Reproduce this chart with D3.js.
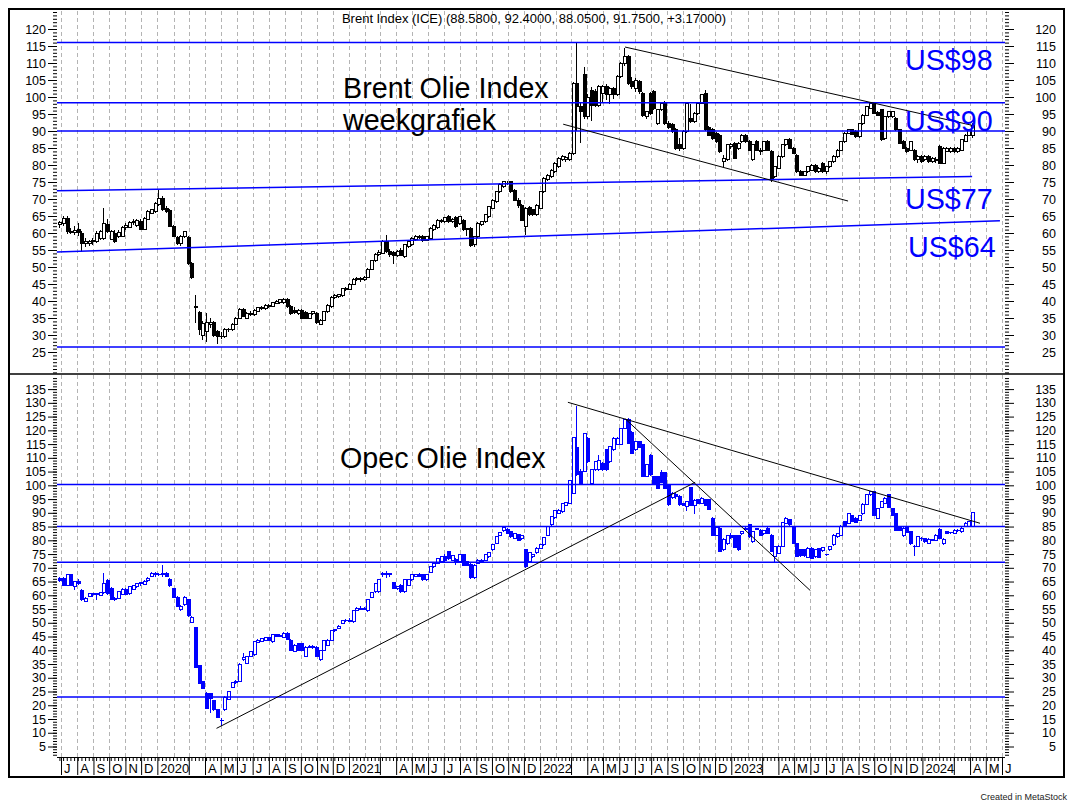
<!DOCTYPE html>
<html>
<head>
<meta charset="utf-8">
<script src="https://cdnjs.cloudflare.com/ajax/libs/d3/7.8.5/d3.min.js"></script>
<style>
  body { margin: 0; background: #fff; }
  svg { display: block; }
  svg text { font-family: "Liberation Sans", Arial, sans-serif; }
</style>
</head>
<body>
<svg id="fig" width="1073" height="810"></svg>
<script>
// weekly bars, the first one is the week ending 28 June 2019
const first_week = new Date(2019, 5, 28)

// Brent Index (ICE), weekly [open, high, low, close]
const brent_ohlc = [
  [62.5,63.5,61.5,63.0],[62.8,65.0,62.0,64.2],[64.2,65.0,59.8,60.4],[60.4,61.5,59.6,60.2],[60.2,62.0,59.5,60.8],[61.0,63.0,59.0,60.2],[60.0,60.5,54.5,57.0],[57.0,58.5,56.0,57.6],[56.8,58.0,56.2,57.4],[57.4,58.6,56.5,57.9],
  [57.4,60.5,57.0,59.9],[58.5,61.0,58.0,60.4],[58.5,67.5,58.0,62.8],[62.6,64.0,60.0,60.4],[58.1,61.0,57.8,60.4],[60.0,60.8,57.0,57.4],[58.9,60.8,58.5,60.2],[59.0,62.0,58.8,61.7],[61.7,63.0,61.0,62.3],[61.7,63.5,61.5,63.0],
  [63.0,64.0,62.5,63.3],[62.2,64.2,61.8,63.8],[63.3,64.0,60.8,61.0],[61.0,64.8,60.8,64.3],[64.0,66.8,63.8,66.3],[65.8,67.2,65.5,66.8],[66.3,69.0,66.0,68.7],[68.4,72.6,68.0,70.2],[70.2,71.0,66.5,67.0],[67.2,68.0,65.8,66.4],
  [66.6,67.0,61.8,62.0],[61.9,62.3,58.7,59.0],[58.6,59.0,56.5,57.0],[56.8,59.5,56.3,58.9],[58.9,60.6,58.5,60.4],[58.7,59.2,50.5,51.0],[50.9,51.5,46.5,47.0],[38.3,41.8,33.4,38.1],[36.6,37.0,30.0,31.5],[30.0,34.0,28.5,33.4],
  [31.0,36.5,28.0,33.8],[33.2,35.0,32.0,33.8],[33.8,34.2,29.5,30.0],[31.0,31.5,27.3,29.7],[29.7,30.8,28.8,29.5],[29.5,32.0,29.2,31.7],[31.7,32.2,31.0,31.5],[31.5,33.5,31.2,33.2],[33.2,35.2,33.0,34.9],[34.9,37.8,34.6,37.5],
  [37.5,38.0,35.2,35.4],[34.9,36.7,34.6,36.4],[36.4,37.0,35.5,36.0],[35.9,37.6,35.6,37.3],[37.0,38.3,36.8,38.0],[38.0,38.4,37.4,37.8],[37.8,39.1,37.5,38.8],[38.8,39.0,38.0,38.3],[38.5,39.8,38.2,39.5],[39.3,40.3,39.0,40.0],
  [39.5,40.6,39.2,40.3],[39.5,40.9,39.2,40.5],[40.5,40.8,38.0,38.3],[38.5,38.9,35.9,36.2],[37.2,38.3,36.2,36.5],[36.2,37.6,35.8,37.3],[37.3,37.6,34.6,34.9],[36.5,37.0,34.7,35.0],[35.0,36.5,34.8,36.2],[36.2,37.2,35.8,36.9],
  [36.4,36.8,33.2,33.6],[33.2,34.8,33.0,34.4],[34.4,37.2,34.2,36.9],[36.9,39.0,36.6,38.8],[38.3,41.4,38.0,41.1],[41.0,42.0,40.5,41.7],[41.3,42.2,40.8,41.8],[41.5,43.9,41.2,43.7],[43.5,44.2,43.0,43.8],[43.4,45.2,43.1,45.0],
  [45.0,46.7,44.8,46.4],[46.2,47.0,45.8,46.5],[46.5,47.0,45.5,46.2],[46.3,47.3,45.9,47.0],[47.0,49.6,46.7,49.3],[49.3,52.2,49.0,51.9],[51.9,54.1,51.6,53.8],[53.8,55.0,53.2,54.2],[54.0,57.8,53.8,57.5],[57.5,59.4,54.2,54.5],
  [54.5,55.2,53.0,53.8],[54.2,54.8,51.0,53.5],[53.5,55.0,53.0,54.5],[55.0,55.6,53.2,53.5],[53.0,56.8,52.6,56.5],[56.0,57.8,55.7,57.5],[56.5,58.7,56.2,58.4],[58.0,59.3,57.6,58.9],[58.9,59.5,58.3,58.7],[58.9,59.3,57.5,57.9],
  [57.9,59.2,57.6,58.9],[58.4,61.7,58.1,61.4],[61.0,62.6,60.7,62.3],[61.6,64.1,61.3,63.8],[63.6,64.2,63.0,63.5],[63.3,64.8,63.0,64.5],[64.8,65.2,63.0,63.3],[63.3,64.5,62.8,64.0],[64.5,65.0,61.6,61.9],[62.8,65.1,62.4,64.8],
  [63.8,64.2,60.6,60.9],[60.9,61.5,59.0,61.4],[61.4,61.8,56.0,56.3],[56.5,59.2,56.0,58.9],[58.9,63.1,58.6,62.8],[62.5,63.6,62.2,63.3],[63.3,65.6,63.0,65.3],[64.8,68.0,64.5,67.7],[67.3,70.0,67.0,69.7],[69.2,72.5,68.9,72.2],
  [72.2,74.6,71.9,74.3],[73.6,75.4,73.3,75.1],[74.5,75.3,74.0,74.6],[75.1,75.4,71.9,72.2],[72.6,72.9,69.4,69.7],[69.7,70.2,67.5,68.0],[68.0,68.5,63.5,63.8],[61.9,67.6,59.4,67.3],[67.5,67.8,65.0,65.3],[66.8,67.1,65.0,65.3],
  [65.3,68.5,65.0,68.2],[67.3,72.5,67.0,72.2],[72.2,76.4,71.9,76.1],[75.6,77.3,75.3,77.0],[76.6,78.8,76.3,78.5],[78.0,80.8,77.7,80.5],[79.5,82.3,79.2,82.0],[81.5,82.8,81.2,82.5],[81.5,82.6,81.0,82.3],[81.5,83.7,81.2,83.4],
  [83.4,104.3,83.0,104.0],[104.0,116.3,89.9,97.2],[97.2,98.5,86.4,95.7],[106.5,108.9,93.5,94.2],[94.2,100.8,93.6,100.0],[102.0,103.0,93.0,97.6],[101.5,102.5,97.0,97.6],[97.6,103.6,97.0,103.0],[101.0,103.6,98.5,103.0],[103.0,103.8,99.0,100.6],
  [100.6,103.0,98.0,102.5],[102.5,103.0,99.5,100.8],[100.8,106.5,100.3,106.0],[106.0,110.3,105.5,109.9],[109.9,114.3,109.0,111.9],[111.9,112.5,103.5,104.0],[104.5,106.0,102.5,103.0],[102.6,105.5,101.5,105.0],[104.5,105.0,101.0,101.5],[101.0,101.5,94.2,94.7],
  [94.2,96.0,93.5,95.7],[101.0,101.5,94.7,95.2],[101.5,102.0,96.2,96.7],[92.2,96.5,91.8,96.2],[96.2,98.5,95.8,98.1],[98.1,98.8,91.8,92.2],[92.2,93.0,90.5,91.0],[91.8,92.5,89.5,89.8],[90.3,90.8,84.5,84.9],[86.0,88.0,84.0,85.0],
  [85.0,90.2,84.5,89.8],[89.8,98.5,89.5,98.1],[93.7,98.0,92.3,92.7],[92.7,95.5,92.3,95.2],[95.2,98.4,94.8,98.1],[98.1,100.9,97.8,100.6],[101.1,102.0,90.0,90.3],[91.0,91.5,88.5,88.8],[90.3,90.8,87.5,87.8],[89.3,89.8,86.5,86.9],
  [88.8,89.2,83.6,83.9],[81.0,83.0,79.5,82.0],[81.5,86.2,81.2,85.9],[85.4,86.5,84.8,85.9],[86.4,86.8,81.7,82.0],[84.9,86.7,84.5,86.4],[86.9,89.2,86.5,88.8],[88.8,89.2,86.6,86.9],[86.9,87.3,84.1,84.4],[81.5,86.2,81.2,85.9],
  [86.9,87.3,84.1,84.4],[84.0,85.0,83.0,84.4],[84.4,87.2,84.1,86.9],[86.9,87.3,84.1,84.4],[83.9,84.3,75.1,75.6],[76.6,79.8,76.3,79.5],[79.0,82.8,78.7,82.5],[82.5,86.2,82.2,85.9],[85.9,87.7,85.6,87.4],[87.4,87.8,84.6,84.9],
  [84.9,85.3,83.2,83.5],[82.9,83.3,77.7,78.0],[78.2,78.6,76.7,77.0],[77.0,78.3,76.7,78.0],[78.0,79.8,77.7,79.5],[78.5,80.3,78.2,80.0],[80.0,80.4,77.7,78.0],[78.0,79.3,77.7,79.0],[80.5,80.9,77.7,78.0],[78.0,79.8,77.5,79.5],
  [79.5,81.3,79.2,81.0],[81.0,82.8,80.7,82.5],[82.5,84.7,82.2,84.4],[84.4,87.2,84.1,86.9],[86.9,89.6,86.6,89.3],[89.3,90.6,89.0,90.3],[90.3,90.7,88.7,89.0],[89.8,90.2,88.0,88.3],[88.3,92.5,88.0,92.2],[92.2,95.0,91.9,94.7],
  [94.7,97.5,94.4,97.2],[96.7,98.6,96.4,98.1],[98.1,98.5,94.9,95.2],[95.5,95.9,94.4,94.7],[96.2,96.6,87.1,87.4],[87.8,94.5,87.5,94.2],[94.2,96.0,93.9,95.7],[94.2,96.0,93.9,95.7],[93.7,94.1,90.0,90.3],[90.3,90.7,86.1,86.4],
  [86.9,87.3,84.6,84.9],[84.9,85.3,83.6,83.9],[84.4,87.2,84.1,86.9],[84.4,84.8,81.2,81.5],[81.5,82.8,80.5,82.5],[82.5,82.9,80.7,81.0],[81.5,82.8,81.2,82.5],[82.5,82.9,80.7,81.0],[81.0,82.3,80.7,82.0],[81.5,82.5,80.5,81.5],
  [85.4,85.8,80.2,80.5],[80.5,85.2,80.2,84.9],[84.0,85.2,83.7,84.9],[83.9,85.2,83.6,84.9],[84.9,85.3,83.6,83.9],[83.9,85.2,83.6,84.9],[84.4,87.7,84.1,87.4],[87.0,89.1,86.7,88.8],[88.8,90.6,88.5,90.3],[88.58,92.40,88.05,91.75]
]

// Opec basket, weekly [open, high, low, close]
const opec_ohlc = [
  [66.2,66.6,64.8,65.3],[66.2,66.8,63.5,63.7],[63.7,67.9,63.5,67.6],[67.6,67.9,63.2,63.7],[63.1,65.3,62.0,64.9],[64.9,66.0,63.8,64.2],[61.9,62.2,57.8,58.3],[57.7,59.2,57.4,58.9],[59.5,61.0,59.2,60.7],[60.5,60.9,59.5,60.2],
  [60.2,60.8,58.3,60.5],[60.1,61.2,59.7,61.0],[60.9,68.0,60.6,64.3],[65.3,66.0,60.0,60.5],[62.5,63.0,58.2,58.5],[58.5,59.2,58.0,58.8],[58.8,61.6,58.6,61.3],[60.3,62.5,60.0,62.2],[62.2,62.5,60.0,60.3],[60.5,63.4,60.2,63.1],
  [62.2,63.7,61.9,63.4],[63.1,64.6,62.8,64.3],[64.3,64.8,63.5,64.6],[63.9,65.4,63.6,65.1],[65.3,66.5,65.0,66.2],[66.8,68.3,66.5,68.0],[68.0,68.5,66.8,67.6],[67.4,68.0,67.0,67.6],[67.6,71.0,66.8,67.8],[67.8,68.3,66.5,67.0],
  [65.8,66.2,63.1,63.4],[62.5,62.8,59.0,59.3],[59.3,59.6,55.6,55.9],[54.9,56.4,54.3,56.1],[56.5,59.6,56.2,59.3],[58.3,58.6,52.2,52.5],[50.1,52.3,49.8,52.0],[48.3,48.6,33.5,33.8],[34.3,34.6,27.7,28.0],[28.6,28.9,25.9,26.2],
  [24.4,24.8,18.6,18.9],[24.1,24.5,17.3,22.5],[21.7,22.0,17.9,18.3],[18.3,18.6,15.3,15.6],[14.4,15.2,12.5,14.6],[18.3,23.2,18.0,22.9],[22.2,25.2,21.9,24.9],[26.5,28.5,26.2,28.2],[28.2,29.1,27.9,28.8],[28.6,35.3,28.3,35.0],
  [36.5,38.9,36.2,37.4],[35.2,38.0,34.9,37.7],[37.7,39.8,37.4,39.5],[38.3,43.4,38.0,43.1],[42.8,44.0,42.5,43.7],[43.1,44.5,42.9,44.3],[43.5,45.0,43.2,44.7],[44.7,45.0,43.4,43.6],[43.1,45.9,42.8,45.6],[45.6,46.0,44.8,45.0],
  [45.0,45.9,44.7,45.5],[44.7,46.5,44.4,46.2],[46.0,46.6,43.7,44.0],[43.7,44.0,39.8,40.1],[39.5,42.2,39.2,41.9],[42.5,42.8,39.8,40.1],[42.3,42.6,39.8,40.1],[37.9,41.4,37.6,41.1],[41.1,41.9,40.8,41.5],[41.5,41.8,40.5,41.0],
  [41.1,41.4,37.4,37.7],[36.5,40.2,36.2,39.9],[39.9,43.8,39.6,43.5],[41.9,44.0,41.6,43.7],[43.5,47.4,43.2,47.1],[47.1,47.8,46.8,47.4],[48.0,49.1,47.7,48.8],[49.8,51.1,49.5,50.8],[50.8,51.5,50.2,51.0],[51.0,51.8,50.3,50.6],
  [50.4,54.6,50.1,54.3],[54.6,55.6,54.3,55.3],[55.3,56.0,54.7,55.0],[55.0,55.8,54.6,55.2],[54.4,58.8,54.1,58.5],[59.3,61.3,59.0,61.0],[61.3,64.6,61.0,64.3],[61.3,65.9,61.0,65.6],[67.6,68.4,66.8,68.0],[68.0,68.9,66.3,67.4],
  [67.4,68.0,66.5,67.8],[64.5,64.8,62.2,62.5],[62.5,63.3,61.9,63.1],[63.7,64.0,61.0,61.3],[61.3,65.9,61.0,65.6],[63.7,65.9,63.4,65.6],[65.6,67.7,65.3,67.4],[67.0,67.8,66.6,67.4],[67.4,68.0,66.8,67.0],[67.4,67.8,65.3,65.6],
  [65.6,67.9,65.3,67.6],[68.4,70.7,68.1,70.4],[70.4,71.9,70.1,71.6],[71.6,73.7,71.3,73.4],[72.2,74.3,71.9,74.0],[74.0,75.2,72.2,72.6],[75.9,76.2,72.8,73.4],[72.8,74.7,72.5,74.4],[73.2,73.6,71.0,72.2],[72.2,75.2,71.9,74.9],
  [74.9,75.2,70.7,71.0],[72.2,72.5,70.5,70.8],[71.3,71.6,66.1,66.4],[66.4,71.3,66.1,71.0],[71.6,73.1,71.3,72.8],[72.2,73.1,71.9,72.8],[72.8,75.2,72.5,74.9],[74.0,75.9,73.7,75.6],[76.5,78.6,76.2,78.3],[78.9,81.6,78.6,81.3],
  [81.9,83.2,81.6,82.9],[83.4,84.9,83.1,84.6],[84.1,84.4,82.2,82.5],[83.1,83.4,81.0,81.3],[80.7,82.8,80.4,82.5],[82.0,82.3,79.8,80.1],[80.5,81.9,80.2,81.6],[76.5,76.8,70.1,70.4],[72.2,75.9,71.9,75.6],[74.0,75.2,73.7,74.9],
  [75.5,77.5,75.2,77.2],[77.2,78.8,76.9,78.5],[78.3,81.3,78.0,81.0],[81.9,85.3,81.6,85.0],[85.6,88.9,85.3,88.6],[88.2,91.0,87.9,90.7],[89.8,91.3,89.5,91.0],[90.4,93.7,90.1,93.4],[92.8,94.1,92.5,93.8],[93.4,101.9,93.1,101.6],
  [97.1,117.6,96.8,117.3],[113.7,129.0,103.5,103.8],[105.0,105.8,100.4,100.7],[105.0,119.2,104.7,118.9],[116.9,117.5,108.3,108.6],[100.7,105.9,100.4,105.6],[105.6,108.9,105.3,108.6],[105.6,111.0,105.3,109.2],[108.0,108.5,105.3,105.6],[112.9,113.2,105.3,105.6],
  [108.6,114.4,108.3,114.1],[112.9,117.4,112.6,117.1],[114.9,117.4,114.6,117.1],[114.9,121.0,114.6,120.7],[120.7,124.1,120.4,123.8],[123.8,124.5,115.0,115.3],[119.3,119.6,111.3,111.6],[112.9,116.2,112.6,115.9],[115.9,116.2,113.5,113.8],[114.7,115.0,102.9,103.2],
  [103.2,107.7,102.9,107.4],[111.0,111.3,103.5,103.8],[103.2,103.5,100.4,100.7],[103.2,103.5,98.6,98.9],[104.7,105.5,100.8,101.1],[104.7,105.0,98.6,98.9],[100.1,100.4,92.6,92.9],[95.5,97.4,95.2,97.1],[96.5,97.2,95.0,95.8],[95.8,96.5,92.5,93.0],
  [93.4,93.7,92.5,92.8],[92.2,94.3,90.5,94.0],[99.1,99.4,92.5,92.8],[92.8,94.9,89.5,94.6],[94.7,95.0,93.2,93.5],[93.5,95.6,93.2,95.3],[94.7,95.0,92.5,92.8],[94.9,95.2,91.0,91.3],[88.0,88.3,81.6,81.9],[81.9,85.0,81.6,84.7],
  [84.4,84.7,75.6,75.9],[76.5,80.7,76.2,80.4],[78.7,81.9,78.4,81.6],[81.6,82.5,80.5,81.0],[81.6,81.9,77.1,77.4],[81.6,81.9,76.2,76.5],[82.3,83.4,82.0,83.1],[84.0,84.8,83.5,84.4],[85.6,85.9,81.0,81.3],[79.5,83.4,79.2,83.1],
  [84.0,84.5,83.6,84.2],[83.7,84.0,81.6,81.9],[82.3,83.7,82.0,83.4],[84.4,84.7,82.2,82.5],[81.9,82.2,75.6,75.9],[74.1,78.0,71.6,77.7],[75.3,78.2,75.0,77.9],[77.9,86.7,77.6,86.4],[86.2,88.3,85.9,88.0],[87.6,87.9,85.3,85.6],
  [84.7,85.0,78.6,78.9],[78.9,79.2,73.8,74.1],[76.7,77.0,74.0,74.3],[76.7,77.0,74.0,74.3],[73.8,77.4,73.5,77.1],[77.1,77.4,73.1,73.4],[74.0,76.8,73.7,76.5],[76.9,77.2,73.5,73.8],[76.2,77.6,75.9,77.3],[74.7,75.2,74.2,74.9],
  [76.5,78.0,76.2,77.7],[78.3,82.2,78.0,81.9],[81.3,82.6,81.0,82.3],[81.9,85.5,81.6,85.2],[86.8,87.1,84.9,85.2],[86.2,90.1,85.9,89.8],[88.9,89.2,86.6,86.9],[88.0,88.3,86.2,86.5],[87.2,89.2,86.9,88.9],[89.6,93.5,89.3,93.2],
  [93.2,96.8,92.9,96.5],[96.5,98.0,96.2,97.7],[97.7,98.0,88.9,89.2],[88.0,91.9,87.7,91.6],[92.0,94.4,91.7,94.1],[93.5,95.6,93.2,95.3],[96.5,96.8,91.7,92.0],[91.6,91.9,88.9,89.2],[89.8,90.1,83.4,83.7],[84.9,85.2,83.4,83.7],
  [81.6,84.7,81.3,84.4],[84.9,85.2,82.5,82.8],[83.1,83.4,78.4,78.7],[77.8,78.4,74.3,77.7],[77.9,81.6,77.6,81.3],[80.5,81.3,79.8,80.8],[80.7,81.0,79.2,79.5],[78.9,80.7,78.6,80.4],[80.0,80.6,79.6,80.2],[80.1,82.2,79.8,81.9],
  [84.0,84.6,80.4,80.7],[78.7,80.7,78.4,80.4],[83.1,83.4,82.2,82.5],[82.7,83.2,82.3,82.9],[82.5,84.0,82.2,83.7],[83.7,84.2,83.0,83.5],[83.1,84.7,82.8,84.4],[85.0,86.5,84.7,86.2],[85.2,87.1,84.9,86.8],[85.2,90.4,84.9,90.1]
]

// horizontal support / resistance levels
const brent_levels = [116, 98.3, 90, 26.5]
const opec_levels = [100.3, 85, 72, 23]

// sloping lines drawn on the chart, [date, value] at both ends
const brent_blue_lines = [
  [["2019-06-23", 72.4], ["2024-04-05", 76.6]],
  [["2019-06-23", 54.4], ["2024-05-28", 63.6]]
]
const brent_channel = [
  [["2022-06-12", 114.7], ["2024-04-10", 91.5]],
  [["2022-02-14", 92.0], ["2023-08-12", 69.4]]
]
const opec_lines = [
  [["2020-04-23", 11.6], ["2022-10-24", 101.1]],
  [["2022-06-13", 124.1], ["2023-06-01", 61.7]],
  [["2022-02-23", 130.2], ["2024-04-20", 86.2]]
]

const brent_ticks = d3.range(25, 121, 5)
const opec_ticks = d3.range(5, 136, 5)
const month_letters = ['J','F','M','A','M','J','J','A','S','O','N','D']

const title = 'Brent Index (ICE) (88.5800, 92.4000, 88.0500, 91.7500, +3.17000)'

const fig = d3.select('#fig')
const plot_left = 57
const plot_right = 1005
const blue = '#0000ff'
const parse = d3.timeParse('%Y-%m-%d')
const week_date = i => d3.timeDay.offset(first_week, 7 * i)

const xScale = d3.scaleTime()
    .domain([new Date(2019, 6, 1), new Date(2024, 5, 1)])
    .range([61, 1002])
const yTop = d3.scaleLinear().domain([20, 120]).range([369, 29])
const yBot = d3.scaleLinear().domain([5, 135]).range([746.5, 389.1])

const panels = [
    {y: yTop, y0: 10, y1: 374, data: brent_ohlc, colour: 'black', levels: brent_levels,
     major: brent_ticks, minor: d3.range(19, 126)},
    {y: yBot, y0: 374, y1: 757, data: opec_ohlc, colour: blue, levels: opec_levels,
     major: opec_ticks, minor: d3.range(2, 140)}
]

const months = d3.timeMonth.range(new Date(2019, 6, 1), new Date(2024, 6, 1))
const px = d => Math.round(xScale(d)) + 0.5

panels.forEach(p => {
    // dashed month grid
    fig.append('g')
        .attr('shape-rendering', 'crispEdges')
        .selectAll('line').data(months).join('line')
        .attr('x1', px).attr('x2', px)
        .attr('y1', p.y0 + 1).attr('y2', p.y1)
        .attr('stroke', '#b4b4b4')
        .attr('stroke-dasharray', '4,3')

    // candles: hollow when the week closed up, filled when it closed down
    const bars = fig.append('g')
        .attr('shape-rendering', 'crispEdges')
        .selectAll('g')
        .data(p.data.map((d, i) => ({date: week_date(i), o: d[0], h: d[1], l: d[2], c: d[3]})))
        .join('g')
    bars.append('line')
        .attr('x1', d => px(d.date)).attr('x2', d => px(d.date))
        .attr('y1', d => p.y(d.h)).attr('y2', d => p.y(d.l))
        .attr('stroke', p.colour)
    bars.append('rect')
        .attr('x', d => px(d.date) - 1)
        .attr('width', 3)
        .attr('y', d => p.y(Math.max(d.o, d.c)))
        .attr('height', d => Math.max(Math.abs(p.y(d.o) - p.y(d.c)), 0.6))
        .attr('fill', d => d.c >= d.o ? 'white' : p.colour)
        .attr('stroke', p.colour)

    // horizontal levels
    fig.append('g').selectAll('line').data(p.levels).join('line')
        .attr('x1', plot_left).attr('x2', plot_right)
        .attr('y1', d => p.y(d)).attr('y2', d => p.y(d))
        .attr('stroke', blue).attr('stroke-width', 1.5)

    // value axes, left and right
    const styleAxis = g => {
        g.select('.domain').remove()
        g.attr('font-size', 12.5).attr('font-family', '"Liberation Sans", Arial, sans-serif')
    }
    fig.append('g').attr('transform', `translate(${plot_left},0)`)
        .call(d3.axisLeft(p.y).tickValues(p.minor).tickSize(4).tickFormat(''))
        .call(styleAxis)
    fig.append('g').attr('transform', `translate(${plot_left},0)`)
        .call(d3.axisLeft(p.y).tickValues(p.major).tickSize(9).tickPadding(2))
        .call(styleAxis)
    fig.append('g').attr('transform', `translate(${plot_right},0)`)
        .call(d3.axisRight(p.y).tickValues(p.minor).tickSize(4).tickFormat(''))
        .call(styleAxis)
    fig.append('g').attr('transform', `translate(${plot_right},0)`)
        .call(d3.axisRight(p.y).tickValues(p.major).tickSize(9))
        .call(styleAxis)
        .call(g => g.selectAll('text').attr('x', 51).attr('text-anchor', 'end'))
})

// sloping lines
const line_for = y => d3.line().x(d => xScale(parse(d[0]))).y(d => y(d[1]))
fig.append('g').selectAll('path').data(brent_blue_lines).join('path')
    .attr('d', line_for(yTop)).attr('stroke', blue).attr('stroke-width', 1.5).attr('fill', 'none')
fig.append('g').selectAll('path').data(brent_channel).join('path')
    .attr('d', line_for(yTop)).attr('stroke', 'black').attr('fill', 'none')
fig.append('g').selectAll('path').data(opec_lines).join('path')
    .attr('d', line_for(yBot)).attr('stroke', 'black').attr('fill', 'none')

// time axis: weekly ticks plus month separators
fig.append('g').attr('transform', 'translate(0,757)')
    .call(d3.axisBottom(xScale).tickValues(d3.range(0, 257).map(week_date)).tickSize(4).tickFormat(''))
    .call(g => g.select('.domain').remove())
fig.append('g').attr('transform', 'translate(0,757)')
    .call(d3.axisBottom(xScale)
        .tickValues(months.filter(d => d.getMonth() !== 1))
        .tickSize(18)
        .tickFormat(d => d.getMonth() === 0 ? String(d.getFullYear()) : d.getMonth() === 2 ? '' : month_letters[d.getMonth()]))
    .call(g => g.select('.domain').remove())
    .attr('font-size', 13).attr('font-family', '"Liberation Sans", Arial, sans-serif')
    .call(g => g.selectAll('text').attr('text-anchor', 'start').attr('x', 2.5).attr('y', 16).attr('dy', null))
fig.append('line')
    .attr('x1', plot_left).attr('x2', plot_right).attr('y1', 757.5).attr('y2', 757.5)
    .attr('stroke', 'black')

// frame and panel separator
fig.append('rect')
    .attr('x', 9).attr('y', 9).attr('width', 1055).attr('height', 768)
    .attr('fill', 'none').attr('stroke', 'black').attr('stroke-width', 2)
fig.append('line')
    .attr('x1', 9).attr('x2', 1064).attr('y1', 374).attr('y2', 374)
    .attr('stroke', 'black').attr('stroke-width', 1.5)

// texts
fig.append('text').attr('x', 534).attr('y', 22.5).attr('text-anchor', 'middle')
    .attr('font-size', 13).text(title)

const notes = [
    {t: 'Brent Olie Index', x: 343, y: 98, c: 'black'},
    {t: 'weekgrafiek', x: 343, y: 130, c: 'black'},
    {t: 'US$98', x: 905, y: 70, c: blue},
    {t: 'US$90', x: 905, y: 131, c: blue},
    {t: 'US$77', x: 905, y: 209, c: blue},
    {t: 'US$64', x: 908, y: 257, c: blue},
    {t: 'Opec Olie Index', x: 340, y: 468, c: 'black'}
]
fig.append('g').selectAll('text').data(notes).join('text')
    .attr('x', d => d.x).attr('y', d => d.y)
    .attr('font-size', 28.7).attr('fill', d => d.c)
    .text(d => d.t)

fig.append('text').attr('x', 1067).attr('y', 800).attr('text-anchor', 'end')
    .attr('font-size', 9).attr('fill', '#222').text('Created in MetaStock')
</script>
</body>
</html>
